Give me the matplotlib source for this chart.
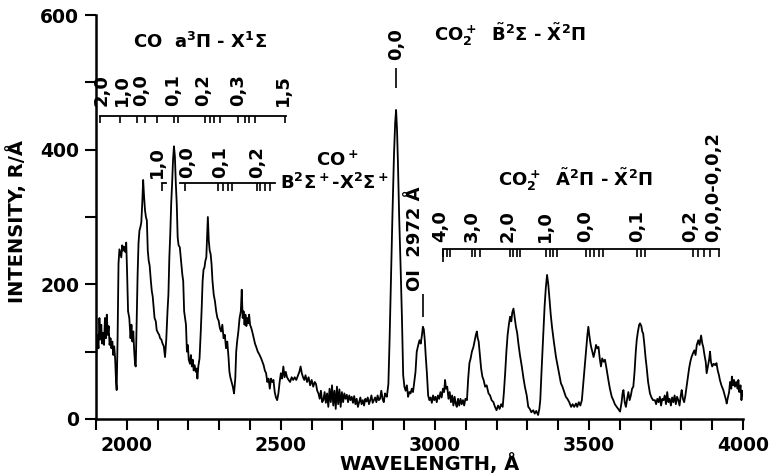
import matplotlib
matplotlib.use("Agg")
import matplotlib.pyplot as plt
from matplotlib.ticker import MultipleLocator

plt.rcParams['font.family'] = ['DejaVu Sans']
plt.rcParams['font.weight'] = 'bold'
plt.rcParams['mathtext.fontset'] = 'custom'
plt.rcParams['mathtext.rm'] = 'DejaVu Sans:bold'
plt.rcParams['mathtext.it'] = 'DejaVu Sans:bold'
plt.rcParams['mathtext.bf'] = 'DejaVu Sans:bold'

# spectrum (wavelength in A, intensity in R/A)
wavelength = [
    1900, 1904, 1908, 1911, 1914, 1917, 1920, 1923, 1926, 1929, 1932, 1935, 1938, 1941, 1944, 1947,
    1950, 1953, 1956, 1959, 1962, 1965, 1967, 1970, 1973, 1976, 1979, 1982, 1985, 1988, 1991, 1995,
    1998, 2001, 2004, 2008, 2012, 2015, 2018, 2021, 2024, 2027, 2029, 2032, 2035, 2038, 2041, 2044,
    2047, 2050, 2053, 2056, 2059, 2062, 2065, 2068, 2071, 2074, 2078, 2081, 2084, 2087, 2090, 2094,
    2097, 2101, 2105, 2108, 2112, 2116, 2120, 2124, 2128, 2132, 2135, 2138, 2141, 2144, 2147, 2150,
    2153, 2156, 2159, 2162, 2165, 2168, 2172, 2176, 2180, 2183, 2186, 2189, 2192, 2195, 2198, 2201,
    2205, 2208, 2211, 2214, 2217, 2220, 2224, 2227, 2229, 2232, 2236, 2240, 2243, 2246, 2249, 2252,
    2255, 2258, 2261, 2263, 2266, 2269, 2272, 2275, 2278, 2282, 2286, 2290, 2294, 2298, 2302, 2306,
    2310, 2314, 2318, 2322, 2326, 2330, 2333, 2336, 2340, 2344, 2348, 2352, 2355, 2358, 2362, 2366,
    2370, 2373, 2376, 2379, 2382, 2385, 2388, 2391, 2394, 2397, 2400, 2404, 2408, 2412, 2416, 2420,
    2425, 2430, 2436, 2440, 2444, 2448, 2452, 2456, 2460, 2464, 2468, 2472, 2476, 2480, 2484, 2488,
    2492, 2496, 2500, 2504, 2508, 2512, 2516, 2520, 2525, 2530, 2535, 2540, 2545, 2550, 2555, 2560,
    2564, 2568, 2572, 2576, 2580, 2585, 2590, 2595, 2600, 2605, 2610, 2614, 2618, 2622, 2626, 2630,
    2634, 2638, 2642, 2646, 2650, 2654, 2658, 2662, 2666, 2670, 2674, 2678, 2682, 2686, 2690, 2694,
    2698, 2702, 2706, 2710, 2714, 2718, 2722, 2726, 2730, 2734, 2738, 2742, 2746, 2750, 2754, 2758,
    2762, 2766, 2770, 2774, 2778, 2782, 2786, 2790, 2794, 2798, 2802, 2806, 2810, 2814, 2818, 2822,
    2826, 2830, 2834, 2838, 2841, 2844, 2849, 2853, 2857, 2862, 2867, 2871, 2874, 2877, 2880, 2884,
    2889, 2893, 2897, 2901, 2905, 2909, 2913, 2917, 2921, 2925, 2929, 2933, 2937, 2941, 2946, 2950,
    2954, 2958, 2961, 2964, 2967, 2970, 2974, 2978, 2982, 2986, 2990, 2994, 2998, 3002, 3006, 3010,
    3014, 3018, 3022, 3026, 3030, 3033, 3036, 3040, 3044, 3048, 3052, 3056, 3060, 3064, 3068, 3071,
    3075, 3079, 3083, 3087, 3091, 3095, 3099, 3104, 3108, 3112, 3116, 3120, 3125, 3130, 3133, 3136,
    3139, 3142, 3146, 3150, 3154, 3158, 3163, 3168, 3174, 3179, 3184, 3190, 3195, 3200, 3205, 3210,
    3215, 3220, 3224, 3228, 3232, 3236, 3240, 3244, 3248, 3251, 3255, 3259, 3263, 3267, 3271, 3276,
    3282, 3287, 3292, 3298, 3303, 3308, 3313, 3319, 3324, 3329, 3335, 3339, 3342, 3346, 3351, 3356,
    3360, 3364, 3368, 3372, 3376, 3380, 3386, 3393, 3398, 3404, 3409, 3414, 3420, 3425, 3430, 3436,
    3442, 3447, 3452, 3458, 3462, 3467, 3472, 3477, 3482, 3488, 3492, 3495, 3498, 3501, 3504, 3507,
    3511, 3515, 3519, 3523, 3527, 3531, 3535, 3539, 3543, 3548, 3552, 3557, 3563, 3568, 3574, 3579,
    3584, 3590, 3595, 3601, 3606, 3609, 3612, 3616, 3620, 3624, 3628, 3632, 3636, 3640, 3644, 3648,
    3652, 3655, 3659, 3663, 3666, 3670, 3673, 3676, 3680, 3684, 3687, 3692, 3698, 3703, 3708, 3714,
    3718, 3722, 3726, 3730, 3734, 3738, 3742, 3746, 3750, 3754, 3758, 3762, 3766, 3770, 3774, 3778,
    3782, 3786, 3790, 3794, 3798, 3801, 3805, 3809, 3813, 3817, 3821, 3825, 3829, 3833, 3838, 3842,
    3846, 3850, 3855, 3859, 3864, 3868, 3871, 3875, 3879, 3882, 3886, 3890, 3893, 3896, 3900, 3905,
    3910, 3914, 3918, 3922, 3925, 3930, 3936, 3941, 3945, 3947, 3951, 3955, 3958, 3962, 3964, 3968,
    3971, 3974, 3978, 3982, 3985, 3988, 3992, 3995, 3998, 4000,
]
intensity = [
    88, 125, 105, 150, 118, 140, 112, 128, 110, 150, 120, 155, 125, 138, 110, 120,
    105, 115, 95, 108, 90, 55, 43, 120, 231, 252, 246, 240, 258, 250, 256, 248,
    262, 215, 160, 150, 120, 140, 115, 130, 100, 80, 78, 150, 215, 262, 280, 285,
    292, 320, 355, 330, 310, 300, 295, 250, 235, 228, 205, 190, 182, 165, 150, 145,
    132, 128, 125, 120, 118, 112, 108, 92, 118, 160, 185, 240, 275, 320, 350, 385,
    405, 390, 350, 320, 270, 258, 255, 235, 215, 205, 160, 150, 140, 100, 110, 88,
    82, 95, 78, 88, 72, 80, 70, 75, 60, 78, 90, 130, 165, 205, 222, 225,
    235, 240, 275, 300, 265, 250, 245, 230, 205, 185, 175, 160, 150, 146, 135, 130,
    140, 120, 125, 105, 115, 92, 70, 62, 55, 48, 38, 60, 100, 115, 130, 150,
    160, 192, 150, 160, 140, 155, 138, 150, 142, 155, 140, 135, 128, 120, 112, 107,
    100, 96, 90, 85, 80, 72, 68, 55, 60, 45, 60, 55, 58, 40, 32, 28,
    38, 55, 68, 60, 78, 62, 70, 62, 58, 55, 62, 58, 62, 58, 64, 70,
    78, 68, 62, 58, 65, 55, 62, 50, 58, 48, 55, 52, 42, 38, 30, 42,
    25, 28, 40, 24, 38, 18, 45, 25, 50, 20, 42, 15, 48, 22, 44, 18,
    40, 25, 38, 30, 36, 25, 35, 28, 33, 24, 34, 22, 30, 18, 25, 32,
    22, 28, 20, 30, 26, 32, 22, 28, 35, 24, 28, 32, 25, 35, 28, 30,
    42, 30, 25, 38, 35, 33, 52, 120, 200, 300, 390, 440, 459, 430, 380, 300,
    220, 150, 65, 48, 42, 50, 33, 40, 38, 45, 40, 55, 70, 100, 110, 117,
    112, 125, 137, 133, 118, 95, 68, 35, 28, 32, 24, 35, 28, 33, 25, 35,
    30, 40, 32, 45, 40, 58, 45, 48, 30, 40, 25, 35, 20, 33, 22, 18,
    30, 20, 30, 22, 28, 20, 30, 28, 60, 83, 90, 100, 107, 118, 125, 130,
    120, 115, 95, 75, 63, 58, 48, 50, 38, 35, 28, 25, 18, 13, 20, 15,
    22, 18, 40, 68, 100, 125, 140, 152, 145, 158, 164, 150, 137, 128, 112, 95,
    78, 62, 48, 35, 18, 15, 10, 13, 8, 12, 6, 15, 28, 70, 117, 167,
    195, 214, 200, 177, 155, 137, 115, 92, 80, 65, 53, 48, 40, 33, 30, 25,
    18, 22, 18, 23, 18, 25, 20, 28, 55, 88, 110, 125, 137, 125, 115, 107,
    100, 92, 100, 110, 105, 107, 90, 78, 90, 85, 88, 75, 58, 45, 33, 28,
    22, 18, 15, 11, 25, 38, 43, 25, 18, 30, 40, 28, 35, 45, 48, 70,
    100, 117, 130, 140, 142, 138, 130, 127, 110, 90, 78, 55, 38, 32, 28, 28,
    22, 30, 25, 33, 20, 30, 28, 35, 22, 40, 25, 30, 20, 32, 25, 35,
    22, 33, 28, 20, 35, 43, 30, 25, 35, 48, 60, 75, 85, 92, 98, 102,
    95, 110, 117, 110, 124, 112, 107, 95, 85, 68, 78, 88, 100, 85, 78, 82,
    80, 83, 72, 65, 58, 50, 43, 35, 28, 23, 32, 40, 55, 45, 63, 50,
    58, 48, 55, 45, 58, 40, 50, 28, 42, 35,
]

# CO Cameron bands a3Pi - X1Sigma
co_ticks = [1913, 1978, 2032, 2059, 2097, 2153, 2165, 2254, 2270, 2284, 2303,
            2362, 2382, 2395, 2416, 2514]
co_names = ['2,0', '1,0', '0,0', '0,1', '0,2', '0,3', '1,5']
co_name_x = [1919, 1984, 2046, 2150, 2247, 2361, 2507]

# CO+ first negative B2Sigma+ - X2Sigma+
coplus_ticks = [2115, 2189, 2297, 2313, 2330, 2341, 2422, 2432, 2449, 2465]
coplus_names = ['1,0', '0,0', '0,1', '0,2']
coplus_name_x = [2098, 2195, 2303, 2423]

# CO2+ Fox-Duffendack-Barker A2Pi - X2Pi
co2_ticks = [3026, 3039, 3049, 3120, 3131, 3145, 3244, 3255, 3266, 3277,
             3361, 3372, 3383, 3396, 3491, 3504, 3517, 3531, 3547,
             3656, 3668, 3683, 3839, 3855, 3872, 3894, 3921]
co2_names = ['4,0', '3,0', '2,0', '1,0', '0,0', '0,1', '0,2', '0,0,0-0,0,2']
co2_name_x = [3017, 3121, 3235, 3358, 3488, 3657, 3829, 3902]

# CO2+ B-X (0,0) and OI line
bx_band = 2874
oi_line = 2962

fig = plt.figure(figsize=(7.75, 4.75), dpi=100)
ax = fig.add_axes([0.1239, 0.1179, 0.8348, 0.8505])

ax.plot(wavelength, intensity, color='black', lw=1.3)

ax.set_xlim(1900, 4000)
ax.set_ylim(0, 600)
for side in ['top', 'right']:
    ax.spines[side].set_visible(False)
for side in ['left', 'bottom']:
    ax.spines[side].set_linewidth(1.8)

ax.xaxis.set_major_locator(MultipleLocator(500))
ax.xaxis.set_minor_locator(MultipleLocator(100))
ax.yaxis.set_major_locator(MultipleLocator(200))
ax.yaxis.set_minor_locator(MultipleLocator(100))
ax.tick_params(which='both', direction='out', length=8, width=1.5)
ax.tick_params(axis='both', labelsize=13.5, pad=4)
for lab in ax.get_xticklabels() + ax.get_yticklabels():
    lab.set_fontweight('bold')

ax.set_xlabel('WAVELENGTH, Å', fontsize=14, fontweight='bold')
ax.set_ylabel('INTENSITY, R/Å', fontsize=14, fontweight='bold')
ax.xaxis.set_label_coords(0.516, -0.085)
ax.yaxis.set_label_coords(-0.1066, 0.49)

fs = 13
lw = 1.3


def band_scale(xs, y, ticks, tick_len, names, name_x, name_y, gap=None):
    # horizontal ruler with hanging ticks and rotated band labels
    if gap is None:
        ax.plot(xs, [y, y], color='black', lw=lw, clip_on=False)
    else:
        ax.plot([xs[0], gap[0]], [y, y], color='black', lw=lw)
        ax.plot([gap[1], xs[1]], [y, y], color='black', lw=lw)
    ax.vlines(ticks, y - tick_len, y, color='black', lw=1.2)
    for n, x in zip(names, name_x):
        ax.text(x, name_y, n, rotation=90, ha='center', va='bottom',
                fontsize=fs, fontweight='bold')


band_scale([co_ticks[0], 2517], 450, co_ticks, 10, co_names, co_name_x, 465)
ax.text(2238, 560, r'CO  a$^3\Pi$ - X$^1\Sigma$', ha='center', va='center',
        fontsize=fs, fontweight='bold')

band_scale([coplus_ticks[0], 2481], 350, coplus_ticks, 12, coplus_names,
           coplus_name_x, 358, gap=(2128, 2173))
ax.text(2683, 385, r'CO$^+$', ha='center', va='center', fontsize=fs, fontweight='bold')
ax.text(2674, 350, r'B$^2\Sigma^+$-X$^2\Sigma^+$', ha='center', va='center',
        fontsize=fs, fontweight='bold')

band_scale([co2_ticks[0], co2_ticks[-1]], 252, co2_ticks, 12, co2_names, co2_name_x, 263)
ax.vlines(co2_ticks[0], 233, 252, color='black', lw=1.2)
ax.text(3455, 355, r'CO$_2^+$  $\tilde{\mathrm{A}}^2\Pi$ - $\tilde{\mathrm{X}}^2\Pi$',
        ha='center', va='center', fontsize=fs, fontweight='bold')

ax.text(bx_band, 533, '0,0', rotation=90, ha='center', va='bottom',
        fontsize=fs, fontweight='bold')
ax.vlines(bx_band, 491, 521, color='black', lw=1.2)
ax.text(3244, 570, r'CO$_2^+$  $\tilde{\mathrm{B}}^2\Sigma$ - $\tilde{\mathrm{X}}^2\Pi$',
        ha='center', va='center', fontsize=fs, fontweight='bold', clip_on=False)

ax.text(2936, 190, 'OI  2972 Å', rotation=90, ha='center', va='bottom',
        fontsize=fs, fontweight='bold')
ax.vlines(oi_line, 152, 186, color='black', lw=1.2)

fig.savefig('out.png', dpi=100, facecolor='white')
